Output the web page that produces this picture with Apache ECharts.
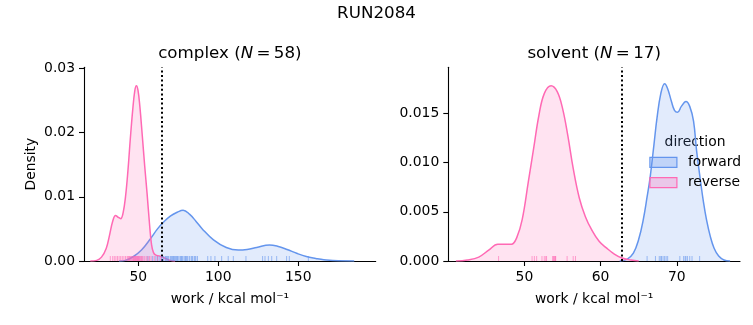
<!DOCTYPE html>
<html>
<head>
<meta charset="utf-8">
<script src="https://cdn.jsdelivr.net/npm/echarts@6/dist/echarts.min.js"></script>
<style>html,body{margin:0;padding:0;background:#fff;}#chart{width:753px;height:325px;}</style>
</head>
<body>
<div id="chart"></div>
<script>
// ---------- data ----------
const suptitle = 'RUN2084';
const panelNames = ['complex', 'solvent'];
const panelN = [58, 17];
const directions = ['forward', 'reverse'];
const thresholds = [64.6, 62.8];

// KDE curves [work, density]
const complexForwardKde = [[38,0],[42,0.0001],[47,0.0007],[52,0.0017],[57.7,0.0035],[62,0.0050],[66,0.0061],[70,0.0070],[74.4,0.0076],[78,0.0079],[82,0.0073],[86,0.0062],[90,0.0050],[97,0.0033],[105,0.0021],[112.5,0.0017],[118,0.0018],[124,0.0021],[132,0.0025],[137,0.0023],[143,0.0018],[149,0.0012],[155,0.0007],[161,0.0004],[166,0.0002],[175,0.00002],[185,0]];
const complexReverseKde = [[20,0],[24,0.0001],[27,0.0006],[30,0.0020],[32,0.0040],[34,0.0062],[35.8,0.0071],[37.5,0.0068],[39,0.0066],[40.5,0.0075],[42,0.0100],[43.5,0.0140],[45,0.0190],[46.5,0.0235],[47.8,0.0265],[48.8,0.0273],[49.8,0.0266],[51,0.0240],[52.5,0.0195],[54,0.0148],[55.5,0.0105],[57,0.0058],[58.3,0.0025],[59.5,0.0013],[61,0.0009],[63,0.0008],[65,0.0006],[67,0.0004],[70,0.0001],[73,0]];
const solventForwardKde = [[62.5,0],[63.5,0.0002],[64.3,0.0008],[65,0.0022],[65.6,0.0042],[66.1,0.0065],[66.5,0.0085],[67,0.0118],[67.4,0.0145],[67.9,0.0170],[68.4,0.0180],[68.8,0.0175],[69.3,0.0162],[69.7,0.0153],[70.1,0.0151],[70.6,0.0157],[71.2,0.0162],[71.7,0.0157],[72.2,0.0142],[72.6,0.0112],[73.1,0.0082],[73.5,0.0060],[73.9,0.0042],[74.4,0.0025],[74.9,0.0013],[75.5,0.0005],[76.2,0.0001],[77,0]];
const solventReverseKde = [[41,0],[42.5,0.0001],[44,0.0004],[45.3,0.0011],[46.5,0.0017],[47.5,0.0017],[48.3,0.0017],[49,0.0024],[49.7,0.0042],[50.5,0.0080],[51.2,0.0114],[51.9,0.0148],[52.6,0.0170],[53.5,0.0178],[54.3,0.0172],[55,0.0155],[55.7,0.0127],[56.4,0.0094],[57.2,0.0064],[58,0.0045],[58.8,0.0032],[59.8,0.0020],[60.8,0.0013],[61.8,0.0007],[62.8,0.0003],[64,0.0001],[65,0]];

// rug samples (work values)
const complexForwardRug = [56,59,61,62,63,64.5,65.5,66,67,67.5,68,68.5,69,70,70.5,71,71.5,72,72.5,73,73.5,74,74.5,75,76,76.5,77,77.5,78,79,79.5,80,80.5,81,82,83,83.5,84,85,85.5,86,87,93.4,95.4,97.9,102.1,106.2,109.4,117.3,127.7,129.2,131.3,133.4,136.5,142.7,144.4,156.3];
const complexReverseRug = [32.5,34,35,36,37,38,39,40,41,42,43,43.5,44,44.5,45,45.5,46,46.5,47,47.3,47.6,48,48.3,48.6,49,49.3,49.6,50,50.3,50.6,51,51.5,52,52.5,53,54,55,56,57,58,60,62,64];
const solventForwardRug = [66.1,67.2,67.7,67.9,68,68.2,68.4,68.6,68.8,70.4,70.9,71.1,71.2,71.4,71.7,72,73];
const solventReverseRug = [46.6,51,51.3,51.6,52.3,52.6,52.8,52.9,53.7,53.8,53.9,54,54.05,54.1,55.6,56.4,56.7];

// axes
const xRanges = [[16.06, 198.4], [40.0, 78.3]];
const yMax = [0.03017, 0.01967];
const xTicks = [[50, 100, 150], [50, 60, 70]];
const yTicks = [[0, 0.01, 0.02, 0.03], [0, 0.005, 0.010, 0.015]];
const yDecimals = [2, 3];
const xName = 'work / kcal mol\u207B\u00B9';
const yName = 'Density';

// ---------- styling ----------
const FONT = 'DejaVu Sans';
const colors = {forward: '#6495ED', reverse: '#FF69B4'};
const fills = {forward: 'rgba(100,149,237,0.27)', reverse: 'rgba(255,105,180,0.27)'};
const rugColors = {forward: 'rgba(100,149,237,0.75)', reverse: 'rgba(255,105,180,0.75)'};
const grids = [
  {left: 84, top: 67.3, width: 291.7, height: 193.7},
  {left: 448.3, top: 67.3, width: 291.7, height: 193.7}
];

const kdes = [[complexForwardKde, complexReverseKde], [solventForwardKde, solventReverseKde]];
const rugs = [[complexForwardRug, complexReverseRug], [solventForwardRug, solventReverseRug]];

const xAxes = [], yAxes = [], series = [];
for (let p = 0; p < 2; p++) {
  xAxes.push({
    type: 'value', gridIndex: p, min: xRanges[p][0], max: xRanges[p][1],
    name: xName, nameLocation: 'middle', nameGap: 31,
    nameTextStyle: {fontFamily: FONT, fontSize: 13.9, color: '#000'},
    axisLine: {show: true, onZero: false, lineStyle: {color: '#000', width: 1.1}},
    axisTick: {show: true, length: 5, inside: false, customValues: xTicks[p], lineStyle: {color: '#000', width: 1.1}},
    axisLabel: {show: true, margin: 9, customValues: xTicks[p], fontFamily: FONT, fontSize: 13.9, color: '#000', formatter: v => String(v)},
    splitLine: {show: false}
  });
  yAxes.push({
    type: 'value', gridIndex: p, min: 0, max: yMax[p],
    name: p === 0 ? yName : '', nameLocation: 'middle', nameGap: 46,
    nameTextStyle: {fontFamily: FONT, fontSize: 13.9, color: '#000'},
    axisLine: {show: true, lineStyle: {color: '#000', width: 1.1}},
    axisTick: {show: true, length: 5, customValues: yTicks[p], lineStyle: {color: '#000', width: 1.1}},
    axisLabel: {show: true, margin: 9, customValues: yTicks[p], fontFamily: FONT, fontSize: 13.9, color: '#000', formatter: v => v.toFixed(yDecimals[p])},
    splitLine: {show: false}
  });
  directions.forEach((d, k) => {
    const s = {
      name: d, type: 'line', xAxisIndex: p, yAxisIndex: p,
      data: kdes[p][k], smooth: 0.4, showSymbol: false, symbol: 'none',
      lineStyle: {color: colors[d], width: 1.5},
      itemStyle: {color: colors[d]},
      areaStyle: {color: fills[d], origin: 'start'},
      z: 2 + k, animation: false, silent: true
    };
    if (k === 1) {
      s.markLine = {
        silent: true, symbol: ['none', 'none'], label: {show: false}, animation: false,
        lineStyle: {color: '#000', type: [2, 2.6], width: 2},
        data: [{xAxis: thresholds[p]}]
      };
    }
    series.push(s);
  });
  directions.forEach((d, k) => {
    series.push({
      name: d + ' rug', type: 'scatter', xAxisIndex: p, yAxisIndex: p,
      data: rugs[p][k].map(v => [v, 0]),
      symbol: 'rect', symbolSize: [1, 5], symbolOffset: [0, -2.5],
      itemStyle: {color: rugColors[d]}, z: 5, animation: false, silent: true
    });
  });
}

const titleRich = {
  a: {fontFamily: FONT, fontSize: 16.7, color: '#000'},
  i: {fontFamily: FONT, fontSize: 16.7, fontStyle: 'italic', color: '#000'}
};
const graphics = [
  {type: 'text', left: 'center', top: 5, style: {text: suptitle, font: '16.7px "DejaVu Sans"', fill: '#000'}}
];
for (let p = 0; p < 2; p++) {
  graphics.push({
    type: 'text', x: grids[p].left + grids[p].width / 2, y: 54,
    style: {text: '{a|' + panelNames[p] + ' (}{i|N}{a|\u2009=\u2009' + panelN[p] + ')}', rich: titleRich, align: 'center', verticalAlign: 'middle'}
  });
}
graphics.push({type: 'text', x: 695, y: 142, style: {text: 'direction', font: '13.9px "DejaVu Sans"', fill: '#000', align: 'center', verticalAlign: 'middle'}});

const option = {
  backgroundColor: '#fff',
  animation: false,
  grid: grids.map(g => Object.assign({containLabel: false}, g)),
  xAxis: xAxes,
  yAxis: yAxes,
  series: series,
  legend: {
    orient: 'vertical', left: 649.3, top: 154.3, padding: 0,
    itemWidth: 27, itemHeight: 10, itemGap: 4.4,
    selectedMode: false,
    textStyle: {fontFamily: FONT, fontSize: 13.9, color: '#000', lineHeight: 16, padding: [0, 0, 0, 6]},
    data: directions.map(d => ({name: d, icon: 'rect', itemStyle: {color: fills[d], borderColor: colors[d], borderWidth: 1.2}}))
  },
  graphic: graphics
};

const chart = echarts.init(document.getElementById('chart'), null, {renderer: 'canvas'});
chart.setOption(option);
</script>
</body>
</html>
